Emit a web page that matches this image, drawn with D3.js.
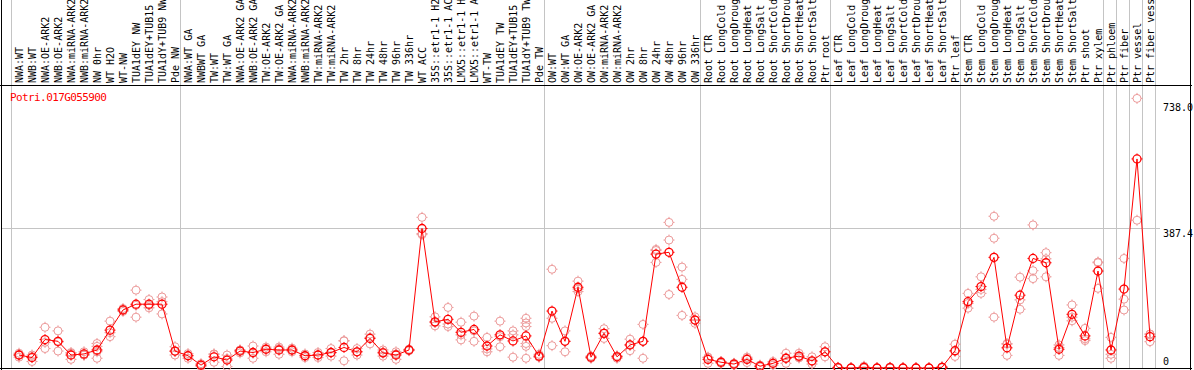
<!DOCTYPE html>
<html>
<head>
<meta charset="utf-8">
<script src="https://cdn.jsdelivr.net/npm/d3@7"></script>
<style>
body { margin: 0; background: #fff; }
svg { display: block; }
text { font-family: "DejaVu Sans Mono", monospace; }
</style>
</head>
<body>
<svg id="svg" width="1194" height="370"></svg>
<script>
var geneName = 'Potri.017G055900';

var samples = [
  'NWA:WT', 'NWB:WT', 'NWA:OE-ARK2', 'NWB:OE-ARK2', 'NWA:miRNA-ARK2', 'NWB:miRNA-ARK2',
  'NW 0hr', 'WT H2O', 'WT-NW', 'TUA1dEY NW', 'TUA1dEY+TUB15 NW', 'TUA1dY+TUB9 NW', 'Pde NW',
  'NWA:WT GA', 'NWBWT GA', 'TW:WT', 'TW:WT GA', 'NWA:OE-ARK2 GA', 'NWB:OE-ARK2 GA',
  'TW:OE-ARK2', 'TW:OE-ARK2 GA', 'NWA:miRNA-ARK2 GA', 'NWB:miRNA-ARK2 GA', 'TW:miRNA-ARK2',
  'TW:miRNA-ARK2 GA', 'TW 2hr', 'TW 8hr', 'TW 24hr', 'TW 48hr', 'TW 96hr', 'TW 336hr',
  'WT ACC', '35S::etr1-1 H2O', '35S::etr1-1 ACC', 'LMX5::etr1-1 H2O', 'LMX5::etr1-1 ACC',
  'WT-TW', 'TUA1dEY TW', 'TUA1dEY+TUB15 TW', 'TUA1dY+TUB9 TW', 'Pde TW',
  'OW:WT', 'OW:WT GA', 'OW:OE-ARK2', 'OW:OE-ARK2 GA', 'OW:miRNA-ARK2', 'OW:miRNA-ARK2 GA',
  'OW 2hr', 'OW 8hr', 'OW 24hr', 'OW 48hr', 'OW 96hr', 'OW 336hr',
  'Root CTR', 'Root LongCold', 'Root LongDrought', 'Root LongHeat', 'Root LongSalt',
  'Root ShortCold', 'Root ShortDrought', 'Root ShortHeat', 'Root ShortSalt', 'Ptr root',
  'Leaf CTR', 'Leaf LongCold', 'Leaf LongDrought', 'Leaf LongHeat', 'Leaf LongSalt',
  'Leaf ShortCold', 'Leaf ShortDrought', 'Leaf ShortHeat', 'Leaf ShortSalt', 'Ptr leaf',
  'Stem CTR', 'Stem LongCold', 'Stem LongDrought', 'Stem LongHeat', 'Stem LongSalt',
  'Stem ShortCold', 'Stem ShortDrought', 'Stem ShortHeat', 'Stem ShortSalt', 'Ptr shoot',
  'Ptr xylem', 'Ptr phloem', 'Ptr fiber', 'Ptr vessel', 'Ptr fiber vessel'
];

// mean expression per sample
var means = [
  36, 29, 79, 74, 36, 39, 50, 105, 161, 177, 177, 177, 47,
  34, 8, 31, 22, 47, 43, 52, 50, 50, 34, 36, 43, 57, 45, 82, 42, 36, 50,
  387, 128, 135, 99, 107, 61, 92, 75, 89, 33,
  158, 74, 224, 30, 96, 31, 64, 74, 316, 321, 224, 133,
  24, 16, 11, 24, 5, 13, 27, 33, 20, 45,
  1, 0, 2, 0, 1, 0, 0, 0, 2, 48,
  184, 226, 307, 56, 202, 304, 292, 52, 149, 89,
  269, 50, 219, 580, 87
];

// replicate values per sample
var reps = [
  [41, 36, 30], [36, 18, 32], [113, 54, 71], [103, 47, 72], [41, 24, 43], [45, 36, 36],
  [68, 60, 27, 45], [130, 87, 98], [165, 161, 157], [216, 141, 174], [190, 167, 174],
  [197, 184, 150], [59, 36, 46],
  [40, 27, 35], [12, 8, 4], [38, 16, 39], [36, 4, 26], [50, 42, 49], [61, 27, 41],
  [58, 45, 53], [58, 38, 54], [55, 45, 50], [39, 29, 34], [43, 29, 36], [54, 33, 42],
  [75, 20, 76], [54, 36, 45], [94, 67, 85], [50, 33, 44], [45, 24, 39], [50, 52, 48],
  [418, 373, 370], [142, 117, 126], [168, 115, 122], [127, 78, 92], [144, 74, 103],
  [85, 45, 53], [130, 59, 87], [103, 92, 30], [138, 125, 115, 68, 60, 27], [38, 30, 31],
  [274, 138, 62], [103, 45, 74], [241, 212, 219], [33, 27, 30], [109, 82, 97], [33, 27, 33],
  [80, 48, 64], [121, 27, 74], [329, 293, 326], [404, 355, 204], [280, 246, 146], [142, 124, 133],
  [30, 13, 29], [18, 13, 17], [13, 8, 12], [30, 15, 27], [8, 4, 3], [18, 8, 13],
  [41, 13, 27], [41, 30, 28], [31, 11, 18], [59, 45, 31],
  [2, 0, 1], [0, 0, 0], [5, 0, 1], [0, 0, 0], [2, 0, 1], [0, 0, 0], [0, 0, 0], [0, 0, 0],
  [3, 1, 2], [66, 32, 46],
  [207, 166, 179], [253, 207, 218], [421, 360, 141], [68, 35, 66], [252, 189, 163],
  [397, 270, 248], [320, 253, 303], [57, 35, 64], [175, 131, 141], [110, 76, 81],
  [294, 292, 221], [85, 38, 27], [304, 191, 161], [748, 410], [94, 73, 94]
];

// index of the first sample of each group (plus the end)
var groupBreaks = [0, 13, 41, 53, 63, 73, 84, 85, 86, 87, 88];

var yTicks = [0, 387.4, 738.0];

var width = 1194;
var height = 370;

var svg = d3.select('svg');

var x = d3.scaleBand()
    .domain(samples)
    .range([11, 1155])
    .paddingInner(0)
    .paddingOuter(0);

var y = d3.scaleLinear()
    .domain([0, 738])
    .range([368, 102]);

function cx(i) { return x(samples[i]) + 8; }
function edge(k) { return k < samples.length ? x(samples[k]) : x(samples[k - 1]) + x.bandwidth(); }

// vertical group lines
svg.selectAll('line.vgrid')
    .data(groupBreaks)
    .enter()
    .append('line')
    .attr('class', 'vgrid')
    .attr('x1', function(d){ return edge(d) + 0.5; })
    .attr('x2', function(d){ return edge(d) + 0.5; })
    .attr('y1', 0)
    .attr('y2', 369)
    .attr('stroke', '#c4c4c4')
    .attr('stroke-width', 1);

// horizontal grid at the middle tick
svg.selectAll('line.hgrid')
    .data(yTicks.filter(function(d){ return d > 0 && d < 700; }))
    .enter()
    .append('line')
    .attr('class', 'hgrid')
    .attr('x1', 1)
    .attr('x2', 1160)
    .attr('y1', function(d){ return Math.round(y(d)) + 0.5; })
    .attr('y2', function(d){ return Math.round(y(d)) + 0.5; })
    .attr('stroke', '#c4c4c4')
    .attr('stroke-width', 1);

// sample labels
svg.append('g')
    .selectAll('text')
    .data(samples)
    .enter()
    .append('text')
    .attr('transform', function(d, i){ return 'translate(' + cx(i) + ',83) rotate(-90)'; })
    .attr('dy', '0.36em')
    .attr('font-size', '10px')
    .attr('fill', '#000')
    .text(function(d){ return d; });

// frame
svg.append('line').attr('x1', 0).attr('x2', 1192).attr('y1', 85.5).attr('y2', 85.5).attr('stroke', '#000');
svg.append('line').attr('x1', 0).attr('x2', 1192).attr('y1', 368.5).attr('y2', 368.5).attr('stroke', '#000');
svg.append('line').attr('x1', 1.5).attr('x2', 1.5).attr('y1', 0).attr('y2', 370).attr('stroke', '#000');
svg.append('line').attr('x1', 1190.5).attr('x2', 1190.5).attr('y1', 0).attr('y2', 370).attr('stroke', '#000');

// y tick labels on the right
svg.selectAll('text.ytick')
    .data(yTicks)
    .enter()
    .append('text')
    .attr('class', 'ytick')
    .attr('x', 1163)
    .attr('y', function(d){ return Math.min(y(d) + 9, 365); })
    .attr('font-size', '10px')
    .attr('fill', '#000')
    .text(function(d){ return d === 0 ? '0' : d.toFixed(1); });

// title
svg.append('text')
    .text(geneName)
    .attr('x', 10)
    .attr('y', 101)
    .attr('font-size', '11px')
    .attr('letter-spacing', '-0.6px')
    .attr('fill', '#ff0000');

var stubs = 'M0,-5.5V-4M0,4V5.5M-5.5,0H-4M4,0H5.5';

// replicate markers
var repPoints = [];
reps.forEach(function(r, i){ r.forEach(function(v){ repPoints.push({i: i, v: v}); }); });

var repG = svg.append('g')
    .selectAll('g')
    .data(repPoints)
    .enter()
    .append('g')
    .attr('transform', function(d){ return 'translate(' + cx(d.i) + ',' + y(d.v) + ')'; });
repG.append('circle').attr('r', 4).attr('fill', 'none').attr('stroke', '#ec9a9a').attr('stroke-width', 1);
repG.append('path').attr('d', stubs).attr('stroke', '#ec9a9a').attr('stroke-width', 1);

// mean line
var line = d3.line()
    .x(function(d, i){ return cx(i); })
    .y(function(d){ return y(d); });

svg.append('path')
    .datum(means)
    .attr('d', line)
    .attr('fill', 'none')
    .attr('stroke', '#ff0000')
    .attr('stroke-width', 1);

var meanG = svg.append('g')
    .selectAll('g')
    .data(means)
    .enter()
    .append('g')
    .attr('transform', function(d, i){ return 'translate(' + cx(i) + ',' + y(d) + ')'; });
meanG.append('circle').attr('r', 4).attr('fill', 'none').attr('stroke', '#ff0000').attr('stroke-width', 1.3);
meanG.append('path').attr('d', stubs).attr('stroke', '#ff0000').attr('stroke-width', 1);
</script>
</body>
</html>
